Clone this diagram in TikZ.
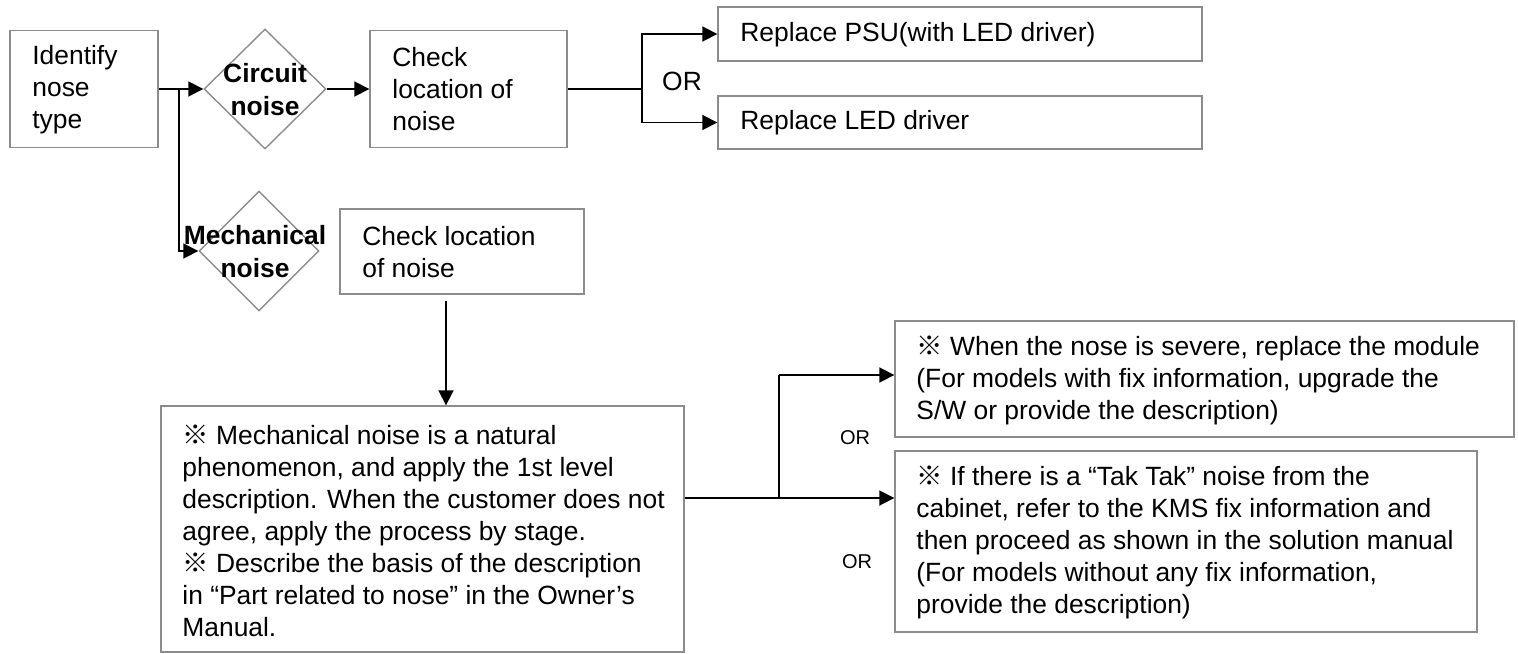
\documentclass[tikz,border=0pt]{standalone}
\usepackage{fontspec}
\setmainfont{Liberation Sans}
\newfontfamily\cjk{Noto Sans CJK KR}
\usetikzlibrary{arrows.meta,calc,shapes.geometric}
\definecolor{edgegray}{RGB}{140,140,140}
\newcommand{\refmark}{{\cjk ※}}
\newcommand{\heavymark}{{\cjk\bfseries ※}}
\tikzset{box/.style={draw=edgegray,line width=0.7pt,inner sep=0},
dia/.style={draw=edgegray,line width=0.7pt,diamond,inner sep=0},
txt/.style={inner sep=0,align=left,font=\fontsize{13.2}{16}\selectfont},
boldtxt/.style={inner sep=0,align=center,font=\fontsize{13.2}{16.5}\selectfont\bfseries},
smalltxt/.style={inner sep=0,font=\fontsize{10}{12}\selectfont},
wire/.style={line width=0.9pt},
link/.style={line width=0.9pt,-{Triangle[length=7.5pt,width=7.5pt]}}}
\begin{document}
\begin{tikzpicture}[x=0.5pt,y=-0.5pt]
\useasboundingbox(0,0)rectangle(1518,653);
\node[box,minimum width=74pt,minimum height=58.5pt](ident)at(84,89){};\node[txt,anchor=west](identt)at(32,90){Identify\\nose\\type};
\node[dia,minimum width=61pt,minimum height=60pt](circ)at(265,89){};\node[boldtxt](circt)at(265,90){Circuit\\noise};
\node[box,minimum width=98.5pt,minimum height=58.5pt](chka)at(468.5,89){};\node[txt,anchor=west](chkat)at(392,89){Check\\location of\\noise};
\node[box,minimum width=242pt,minimum height=27pt](psu)at(960,34){};\node[txt,anchor=west](psut)at(740,35){Replace PSU(with LED driver)};
\node[box,minimum width=242pt,minimum height=26.5pt](led)at(960,122.5){};\node[txt,anchor=west](ledt)at(740,123){Replace LED driver};
\node[txt](ora)at(682,81){OR};
\node[dia,minimum width=60pt,minimum height=60pt](mech)at(259,251){};\node[boldtxt](mecht)at(255,251.5){Mechanical\\noise};
\node[box,minimum width=122pt,minimum height=42.5pt](chkb)at(462,251.5){};\node[txt,anchor=west](chkbt)at(362,252.5){Check location\\of noise};
\node[box,minimum width=261.5pt,minimum height=123pt](big)at(422.5,529){};
\node[txt,anchor=west](bigt)at(182,530.5){\refmark\ Mechanical noise is a natural\\phenomenon, and apply the 1st level\\description. When the customer does not\\agree, apply the process by stage.\\\refmark\ Describe the basis of the description\\in “Part related to nose” in the Owner’s\\Manual.};
\node[box,minimum width=309.5pt,minimum height=58pt](sev)at(1204.5,379){};
\node[txt,anchor=west](sevt)at(916,380){\heavymark\ When the nose is severe, replace the module\\(For models with fix information, upgrade the\\S/W or provide the description)};
\node[box,minimum width=291pt,minimum height=90.5pt](tak)at(1186,541.5){};
\node[txt,anchor=west](takt)at(916,542.5){\refmark\ If there is a “Tak Tak” noise from the\\cabinet, refer to the KMS fix information and\\then proceed as shown in the solution manual\\(For models without any fix information,\\provide the description)};
\node[smalltxt](orb)at(855,438){OR};\node[smalltxt](orc)at(857,562){OR};
\coordinate(ja)at(179,89);\coordinate(jb)at(642,89);\coordinate(jc)at(779,498);\coordinate(jd)at(779,375);
\draw[link](ident.east)--(circ.west);\draw[link](ja)|-(mech.west);
\draw[link](circ.east)--(chka.west);\draw[wire](chka.east)--(jb);
\draw[link](jb)|-(psu.west);\draw[link](jb)|-(led.west);
\draw[link,shorten <=3pt]([xshift=-8pt]chkb.south)--([xshift=-8pt]chkb.south|-big.north);
\draw[wire](big.east|-jc)--(jc)--(jd);
\draw[link](jd)--(sev.west|-jd);\draw[link](jc)--(tak.west|-jc);
\end{tikzpicture}
\end{document}
